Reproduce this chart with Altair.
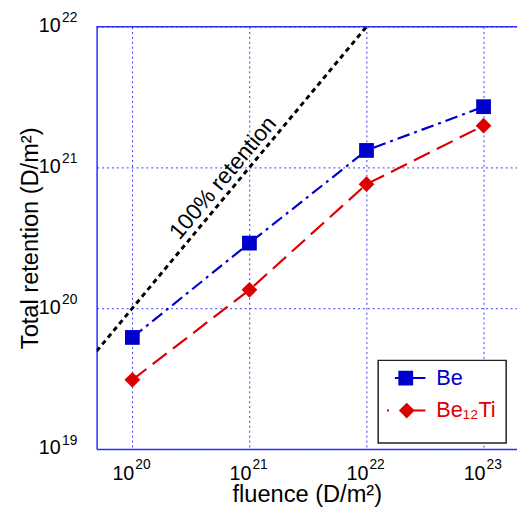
import altair as alt
import pandas as pd

# ---- data ----
fluence = [1e20, 1e21, 1e22, 1e23]
be_retention = [6.2e19, 2.9e20, 1.32e21, 2.7e21]
be12ti_retention = [3.1e19, 1.35e20, 7.6e20, 1.98e21]
series_names = ["Be", "Be₁₂Ti"]
series_colors = ["#0000cc", "#dd0000"]
series_dashes = [[13, 5, 3, 5], [18, 8]]

ref_fluence = [4.95e19, 1e22]          # 100% retention: retention = fluence
ref_label = ["100% retention"]
ref_label_x = [5.96e20]
ref_label_y = [8.4e20]

x_ticks = [1e20, 1e21, 1e22, 1e23]
y_ticks = [1e19, 1e20, 1e21, 1e22]
x_domain = [4.95e19, 1.93e23]
y_domain = [1e19, 1e22]

# ---- tables ----
series_df = pd.DataFrame({
    "series": [series_names[0]] * len(fluence) + [series_names[1]] * len(fluence),
    "fluence": fluence + fluence,
    "retention": be_retention + be12ti_retention,
})
ref_df = pd.DataFrame({"fluence": ref_fluence, "retention": ref_fluence})
label_df = pd.DataFrame({"fluence": ref_label_x, "retention": ref_label_y, "text": ref_label})

FONT = "Liberation Sans"
W, H = 427, 429
BASE_FS = 20
EXP_FS = 14

exp_expr = "'' + round(log(datum.value)/LN10)"

xs = alt.Scale(type="log", domain=x_domain, nice=False)
ys = alt.Scale(type="log", domain=y_domain, nice=False)

# main axes: the "10" part, grid, border, titles
x_main = alt.Axis(orient="bottom", values=x_ticks, labelExpr="'10'", labelAlign="right",
                  labelBaseline="alphabetic", labelPadding=31, labelOffset=1.5,
                  labelFontSize=BASE_FS, grid=True,
                  title="fluence (D/m²)", titleBaseline="alphabetic", titleY=53)
y_main = alt.Axis(orient="left", values=y_ticks, labelExpr="'10'", labelAlign="right",
                  labelBaseline="alphabetic", labelPadding=37, labelOffset=5,
                  labelFontSize=BASE_FS, grid=True,
                  title="Total retention (D/m²)", titleBaseline="alphabetic", titleX=-60)
# exponent axes: the superscript part
x_exp = alt.Axis(orient="bottom", values=x_ticks, labelExpr=exp_expr, labelAlign="left",
                 labelBaseline="alphabetic", labelPadding=20, labelOffset=2.5,
                 labelFontSize=EXP_FS, grid=False, domain=False, title=None)
y_exp = alt.Axis(orient="left", values=y_ticks, labelExpr=exp_expr, labelAlign="right",
                 labelBaseline="alphabetic", labelPadding=20, labelOffset=-5,
                 labelFontSize=EXP_FS, grid=False, domain=False, title=None)


def XY(xa=None, ya=None):
    return (alt.X("fluence:Q", scale=xs, axis=xa),
            alt.Y("retention:Q", scale=ys, axis=ya))


x1, y1 = XY(x_main, y_main)
ref_line = alt.Chart(ref_df).mark_line(
    color="black", strokeWidth=3, strokeDash=[5, 4], clip=True
).encode(x=x1, y=y1)

x0, y0 = XY()
series_layers = []
for name, col, dash, shp, sz in zip(series_names, series_colors, series_dashes,
                                    ["square", "diamond"], [225, 256]):
    base = alt.Chart(series_df).transform_filter(alt.datum.series == name)
    series_layers.append(
        base.mark_line(color=col, strokeWidth=2.2, strokeDash=dash, clip=True).encode(x=x0, y=y0)
    )
    series_layers.append(
        base.mark_point(shape=shp, filled=True, size=sz, opacity=1, color=col).encode(x=x0, y=y0)
    )

x2_, y2_ = XY(x_exp, y_exp)
label = alt.Chart(label_df).mark_text(
    angle=310, font=FONT, fontSize=23, color="black", align="center", baseline="middle"
).encode(x=x2_, y=y2_, text="text:N")

top_border = alt.Chart(ref_df).mark_rule(color="#2b2bff", strokeWidth=1.5).encode(
    x=alt.value(0), x2=alt.value(W), y=alt.value(0)
)

# legend frame (styling only)
legend_box = alt.Chart(label_df).mark_rect(
    fill="white", stroke="#222222", strokeWidth=1.5
).encode(x=alt.value(286), x2=alt.value(416), y=alt.value(339), y2=alt.value(423))

# legend symbols: line + marker drawn as filled custom paths (unit = 10 px)
be_sym = ("M-1.2,-0.1L1.9,-0.1L1.9,0.1L-1.2,0.1Z"
          "M-0.85,-0.75L0.65,-0.75L0.65,0.75L-0.85,0.75Z")
ti_sym = ("M-2,-0.1L-1.8,-0.1L-1.8,0.1L-2,0.1Z"
          "M0,-0.8L0.8,0L0,0.8L-0.8,0Z"
          "M0,-0.1L1.9,-0.1L1.9,0.1L0,0.1Z")


def make_legend():
    return alt.Legend(
        title=None,
        orient="none", legendX=294, legendY=336, direction="vertical",
        padding=10,
        symbolSize=400, symbolStrokeWidth=0, symbolOpacity=1,
        labelFont=FONT, labelFontSize=22, labelOffset=19, rowPadding=11,
        labelColor={"expr": "datum.value == 'Be' ? '#0000cc' : '#dd0000'"},
    )


legend_layer = alt.Chart(series_df).transform_filter(
    alt.datum.retention < 0
).mark_point(filled=True).encode(
    x=x0, y=y0,
    color=alt.Color("series:N", scale=alt.Scale(domain=series_names, range=series_colors),
                    legend=make_legend()),
    shape=alt.Shape("series:N", scale=alt.Scale(domain=series_names, range=[be_sym, ti_sym]),
                    legend=make_legend()),
)

chart = alt.layer(
    ref_line, *series_layers, label, top_border, legend_box, legend_layer
).resolve_axis(
    x="independent", y="independent"
).properties(
    width=W, height=H,
    autosize=alt.AutoSizeParams(type="none"),
    padding={"left": 90, "top": 15, "right": 0, "bottom": 55},
).configure_view(
    stroke=None
).configure_axis(
    labelFont=FONT, labelColor="black",
    titleFont=FONT, titleFontSize=24, titleFontWeight="normal", titleColor="black",
    gridColor="#3a3aff", gridDash=[2, 3], gridWidth=1, gridOpacity=1,
    domainColor="#2b2bff", domainWidth=1.5, ticks=False, tickSize=0,
)

chart.save("out.html", embed_options={"renderer": "svg", "actions": False})
